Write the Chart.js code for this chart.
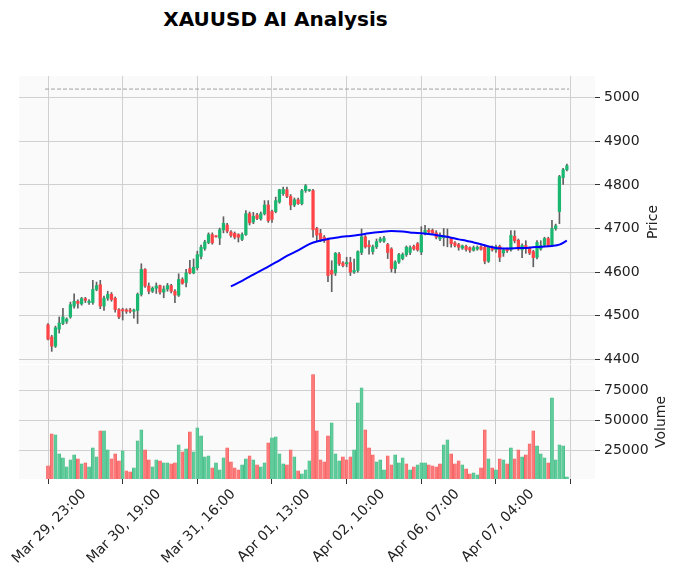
<!DOCTYPE html>
<html><head><meta charset="utf-8">
<script src="https://cdn.jsdelivr.net/npm/chart.js@4.4.1/dist/chart.umd.min.js"></script>
<style>
html,body{margin:0;padding:0;background:#fff;width:678px;height:577px;overflow:hidden;font-family:"DejaVu Sans";}
#title{position:absolute;left:0;top:7px;width:551px;text-align:center;font:bold 20px "DejaVu Sans";color:#000;}
.ylab{position:absolute;font:14px "DejaVu Sans";color:#222;transform:translate(-50%,-50%) rotate(-90deg);white-space:nowrap;}
#w1{position:absolute;left:0;top:0;width:678px;height:365px;}
#w2{position:absolute;left:0;top:363px;width:678px;height:214px;}
</style></head><body>
<div id="title">XAUUSD AI Analysis</div>
<div id="w1"><canvas id="c1" width="678" height="365"></canvas></div>
<div id="w2"><canvas id="c2" width="678" height="214"></canvas></div>
<div class="ylab" style="left:652px;top:222px">Price</div>
<div class="ylab" style="left:660px;top:422px">Volume</div>
<script>
// ---- data ----
const tickIdx = [0, 20, 40, 60, 80, 100, 120, 140];
const tickText = ['Mar 29, 23:00','Mar 30, 19:00','Mar 31, 16:00','Apr 01, 13:00','Apr 02, 10:00','Apr 06, 07:00','Apr 07, 04:00',''];
const priceTicks = [4400, 4500, 4600, 4700, 4800, 4900, 5000];
const volTicks = [25000, 50000, 75000];

const opens = [4479,4451,4430,4469,4482,4487,4497,4522,4533,4527,4539,4530,4530,4560,4571,4522,4540,4549,4540,4514,
4514,4513,4513,4510,4512,4549,4606,4568,4556,4563,4569,4554,4561,4569,4556,4547,4583,4576,4608,4598,
4610,4636,4654,4668,4686,4682,4678,4697,4708,4692,4689,4686,4675,4686,4734,4715,4731,4722,4734,4754,
4739,4739,4761,4780,4789,4774,4754,4766,4757,4787,4787,4787,4700,4689,4680,4675,4604,4598,4641,4621,
4619,4622,4600,4604,4645,4681,4662,4647,4658,4671,4671,4663,4653,4608,4623,4631,4640,4645,4659,4665,
4646,4689,4696,4696,4690,4676,4679,4682,4678,4667,4663,4655,4659,4656,4650,4653,4658,4657,4625,4655,
4651,4659,4644,4653,4651,4682,4673,4651,4661,4654,4647,4634,4653,4662,4677,4662,4700,4739,4817,4835];
const highs = [4482,4455,4476,4497,4517,4495,4531,4550,4536,4542,4542,4537,4581,4577,4581,4545,4556,4553,4543,4516,
4517,4516,4517,4515,4552,4619,4608,4575,4566,4575,4570,4568,4574,4572,4560,4596,4587,4606,4627,4630,
4648,4662,4673,4690,4690,4684,4701,4727,4712,4695,4692,4688,4690,4741,4738,4737,4735,4738,4764,4764,
4742,4772,4790,4795,4795,4778,4770,4770,4790,4801,4790,4790,4703,4698,4684,4678,4626,4645,4645,4624,
4634,4634,4630,4649,4699,4684,4672,4662,4676,4680,4682,4666,4656,4626,4643,4644,4660,4660,4662,4668,
4704,4707,4700,4699,4695,4690,4700,4699,4680,4670,4666,4662,4662,4658,4660,4660,4661,4660,4660,4660,
4662,4662,4652,4655,4695,4695,4676,4665,4672,4658,4650,4672,4672,4680,4680,4719,4710,4822,4838,4848];
const lows = [4444,4418,4427,4460,4479,4482,4494,4517,4517,4524,4530,4526,4526,4557,4516,4512,4535,4533,4508,4493,
4490,4505,4506,4494,4482,4545,4565,4550,4553,4551,4549,4541,4556,4552,4530,4544,4572,4566,4596,4596,
4605,4630,4650,4665,4664,4680,4663,4690,4690,4680,4676,4669,4672,4684,4708,4711,4720,4719,4731,4714,
4714,4736,4758,4776,4771,4743,4750,4755,4754,4783,4785,4680,4672,4670,4668,4578,4555,4592,4615,4612,
4612,4592,4597,4600,4640,4655,4641,4641,4654,4668,4668,4631,4600,4598,4620,4628,4636,4640,4650,4648,
4640,4685,4688,4686,4676,4672,4660,4658,4657,4658,4650,4652,4648,4645,4648,4650,4650,4619,4622,4648,
4645,4624,4636,4645,4648,4667,4650,4633,4643,4640,4612,4630,4650,4658,4660,4660,4696,4711,4801,4832];
const closes = [4446,4430,4472,4483,4497,4492,4525,4533,4528,4539,4535,4533,4560,4569,4522,4540,4549,4537,4514,4497,
4511,4510,4510,4513,4549,4606,4568,4556,4563,4568,4554,4561,4569,4556,4547,4583,4574,4598,4598,4611,
4640,4657,4669,4686,4667,4681,4697,4712,4694,4684,4680,4680,4686,4734,4713,4728,4723,4734,4754,4718,
4721,4764,4789,4790,4774,4754,4766,4757,4787,4798,4788,4697,4685,4675,4672,4592,4595,4643,4619,4615,
4622,4600,4604,4647,4681,4658,4658,4658,4670,4676,4678,4645,4608,4623,4640,4640,4657,4656,4653,4651,
4684,4696,4692,4690,4680,4682,4684,4680,4665,4661,4657,4660,4652,4650,4656,4657,4652,4625,4657,4651,
4658,4634,4651,4649,4684,4672,4653,4661,4654,4644,4633,4668,4661,4677,4662,4700,4706,4819,4835,4844];
const volumes = [11830,38680,37840,21900,18540,11000,16860,21060,17700,13500,14340,11000,26900,19400,41200,41200,25250,17700,21900,16000,
24400,7630,6800,10160,32800,42000,25250,16860,11000,16860,16000,14340,14340,13500,14340,29450,23600,26100,40400,23600,
43700,37000,19400,20200,10160,14340,8470,18540,26900,15180,10160,8470,12670,17700,20200,16860,12670,11000,14340,31100,
35300,36160,21900,13500,12670,25250,19400,7630,5110,8470,16000,88500,41200,16860,15180,37000,47900,21900,16000,19400,
16860,19400,25250,64700,77300,42000,26900,21060,15180,16860,8470,20200,12670,21060,14340,18540,13500,8470,11000,12670,
14340,14340,12670,11830,11000,13500,29450,33650,21900,13500,16000,12670,9300,5110,5940,4270,10160,42000,17700,10160,
8470,17700,16860,13500,26900,17700,25250,19400,21060,30300,41200,28600,21900,18540,14340,68900,16860,29450,28600,2600];
// 1 = volume bar drawn green, 0 = red (as seen in the reference)
const volUp = [0,0,1,1,1,1,1,1,0,1,0,1,1,1,0,1,1,0,0,0,
1,0,0,1,1,1,0,0,1,1,0,1,1,0,0,1,0,1,0,1,
1,1,1,1,0,1,1,1,0,0,0,0,1,1,0,1,0,1,1,0,
1,1,1,1,0,0,1,0,1,1,1,0,0,0,0,0,1,1,1,0,
0,0,1,1,1,0,0,0,1,1,1,0,0,1,1,1,0,1,0,1,
1,1,0,0,0,0,1,1,0,0,0,1,0,0,1,1,0,0,1,0,
1,0,1,0,1,0,0,1,0,0,0,1,1,1,0,1,1,1,1,1];
// moving-average line, read at selected bars
const maIdx = [49,52,55,58,61,64,67,70,72,75,78,80,83,86,89,92,95,98,100,103,106,108,110,112,114,116,118,120,123,126,129,132,135,137,139];
const maVal = [4567,4580,4594,4608,4622,4637,4650,4664,4670,4676,4680,4682,4685,4689,4692,4694,4693,4690,4689,4686,4682,4679,4675,4672,4668,4664,4659,4655,4654,4655,4656,4658,4660,4663,4672];
const refLevel = 5020;

// ---- styling ----
const UP = '#19b76f', DOWN = '#fe4446', WICK = '#606060';
const VUP = '#5ecc9b', VDOWN = '#fd7a7b', VUPE = '#3fb67f', VDOWNE = '#f25758';
const GRID = '#d0d0d0', FONT = {family:'DejaVu Sans', size:14};
const XMIN = -7.77, XMAX = 146.53;

const bg = {id:'bg', beforeDraw(c){const a=c.chartArea,ctx=c.ctx;ctx.save();ctx.fillStyle='#fafafa';ctx.fillRect(a.left,a.top,a.right-a.left,a.bottom-a.top);ctx.restore();}};
const noPad = s => { s.paddingLeft = 0; s.paddingRight = 0; s.paddingTop = 0; s.paddingBottom = 0; };

const n = opens.length;
const idx = Array.from({length:n}, (_, i) => i);
const isUp = idx.map(i => closes[i] >= opens[i]);

const xGrid = (showTicks) => ({
  type:'linear', min:XMIN, max:XMAX, offset:false,
  afterBuildTicks: s => { s.ticks = tickIdx.map(v => ({value:v})); },
  grid:{offset:false, color:GRID, lineWidth:1, drawTicks:showTicks, tickLength:5, tickColor:'#333'},
  border:{display:false}
});

const priceX = Object.assign(xGrid(false), {ticks:{display:false}, afterFit: s => { s.height = 0; noPad(s); }});
const volX = Object.assign(xGrid(true), {
  afterFit: s => { s.height = 98; noPad(s); },
  ticks:{autoSkip:false, maxRotation:45, minRotation:45, font:FONT, color:'#222', padding:2, labelOffset:36,
         callback: v => { const k = tickIdx.indexOf(v); return k >= 0 ? tickText[k] : ''; }}
});

new Chart(document.getElementById('c1'), {
  type:'bar',
  data:{datasets:[
    {type:'line', order:-2, data:[{x:-0.8,y:refLevel},{x:139.6,y:refLevel}], borderColor:'#a0a0a0', borderWidth:1, borderDash:[4,2], pointRadius:0},
    {type:'line', order:-1, data:maIdx.map((x,k)=>({x, y:maVal[k]})), borderColor:'#0000ff', borderWidth:2, pointRadius:0, cubicInterpolationMode:'monotone'},
    {order:0, grouped:false, data:idx.map(i=>({x:i, y:[opens[i], closes[i]]})), barThickness:2.6, minBarLength:1,
     backgroundColor:idx.map(i=>isUp[i]?UP:DOWN), borderWidth:0},
    {order:1, grouped:false, data:idx.map(i=>({x:i, y:[lows[i], highs[i]]})), barThickness:1,
     backgroundColor:WICK, borderWidth:0}
  ]},
  options:{responsive:false, animation:false, events:[],
    layout:{autoPadding:false, padding:{left:19, top:76, right:0, bottom:1}},
    plugins:{legend:{display:false}, tooltip:{enabled:false}},
    scales:{
      x: priceX,
      y:{position:'right', min:4389, max:5050,
         afterBuildTicks: s => { s.ticks = priceTicks.map(v => ({value:v})); },
         afterFit: s => { s.width = 83; noPad(s); },
         grid:{color:GRID, lineWidth:1, tickLength:5, tickColor:'#333'},
         border:{display:false},
         ticks:{font:FONT, color:'#222', padding:4, callback: v => String(v)}}
    }
  },
  plugins:[bg]
});

new Chart(document.getElementById('c2'), {
  type:'bar',
  data:{datasets:[
    {grouped:false, data:idx.map(i=>({x:i, y:volumes[i]})), barThickness:3.1,
     backgroundColor:idx.map(i=>volUp[i]?VUP:VDOWN), borderColor:idx.map(i=>volUp[i]?VUPE:VDOWNE), borderWidth:0.6}
  ]},
  options:{responsive:false, animation:false, events:[],
    layout:{autoPadding:false, padding:{left:19, top:2, right:0, bottom:0}},
    plugins:{legend:{display:false}, tooltip:{enabled:false}},
    scales:{
      x: volX,
      y:{position:'right', min:780, max:96560,
         afterBuildTicks: s => { s.ticks = volTicks.map(v => ({value:v})); },
         afterFit: s => { s.width = 83; noPad(s); },
         grid:{color:GRID, lineWidth:1, tickLength:5, tickColor:'#333'},
         border:{display:false},
         ticks:{font:FONT, color:'#222', padding:4, callback: v => String(v)}}
    }
  },
  plugins:[bg]
});
</script>
</body></html>
